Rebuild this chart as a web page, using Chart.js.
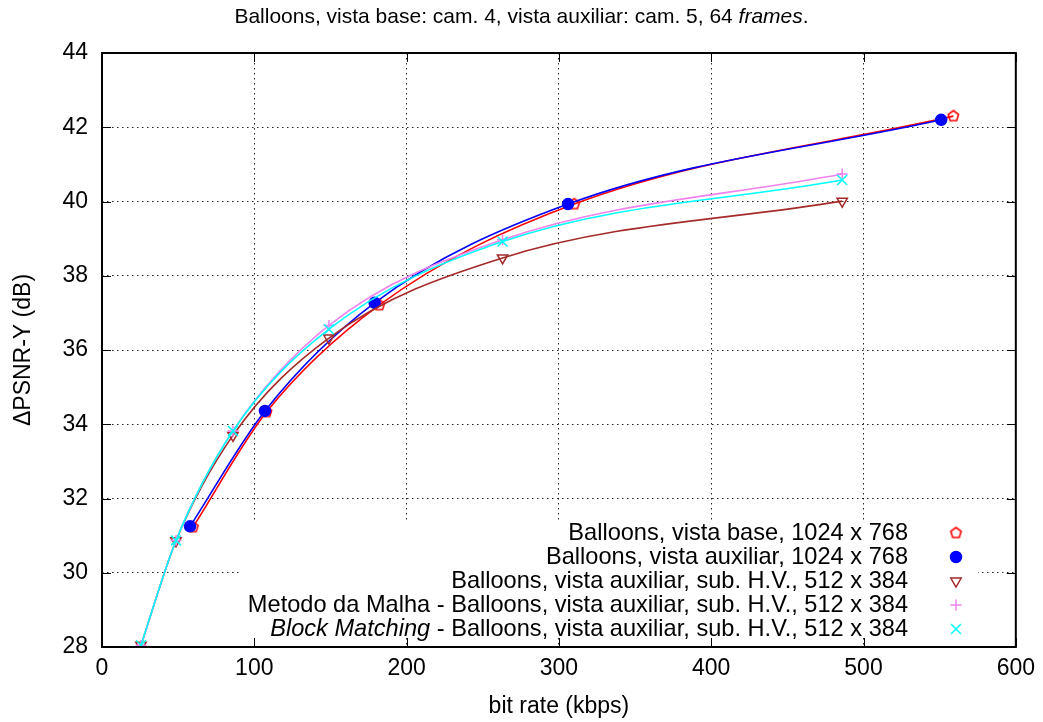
<!DOCTYPE html>
<html>
<head>
<meta charset="utf-8">
<script src="https://cdn.jsdelivr.net/npm/chart.js@4.4.1/dist/chart.umd.min.js"></script>
<style>
  html, body { margin: 0; padding: 0; background: #fff; }
</style>
</head>
<body>
<canvas id="chart" width="1043" height="722"></canvas>
<script>
// Data
const xTicks = [0, 100, 200, 300, 400, 500, 600];
const yTicks = [28, 30, 32, 34, 36, 38, 40, 42, 44];

const baseRate = [59.7, 108, 182, 310, 559];
const basePsnr = [31.23, 34.33, 37.21, 39.93, 42.30];

const auxRate = [57.8, 107, 179, 306, 551];
const auxPsnr = [31.25, 34.36, 37.27, 39.93, 42.20];

const subRate = [25.6, 48.6, 86, 149, 263, 486];
const subPsnr = [28.05, 30.86, 33.70, 36.32, 38.48, 40.01];
const malhaPsnr = [28.05, 30.87, 33.82, 36.66, 38.97, 40.74];
const bmPsnr = [28.05, 30.87, 33.82, 36.56, 38.92, 40.58];

const titleParts = [
  { t: 'Balloons, vista base: cam. 4, vista auxiliar: cam. 5, 64 ' },
  { t: 'frames', i: true },
  { t: '.' }
];
const legendParts = [
  [{ t: 'Balloons, vista base, 1024 x 768' }],
  [{ t: 'Balloons, vista auxiliar, 1024 x 768' }],
  [{ t: 'Balloons, vista auxiliar, sub. H.V., 512 x 384' }],
  [{ t: 'Metodo da Malha - Balloons, vista auxiliar, sub. H.V., 512 x 384' }],
  [{ t: 'Block Matching', i: true }, { t: ' - Balloons, vista auxiliar, sub. H.V., 512 x 384' }]
];

const FONT = '"Liberation Sans", Arial, sans-serif';
const FS = 23;
const KEY_FS = 23.6;

function pts(xs, ys) {
  return xs.map((x, i) => ({ x, y: ys[i] }));
}

// open pentagon marker (not built in)
function pentagon(color, r) {
  const s = Math.ceil(2 * r + 4);
  const c = document.createElement('canvas');
  c.width = c.height = s;
  const g = c.getContext('2d');
  g.strokeStyle = color;
  g.lineWidth = 1.6;
  g.beginPath();
  for (let k = 0; k < 5; k++) {
    const a = -Math.PI / 2 + k * 2 * Math.PI / 5;
    const px = s / 2 + r * Math.cos(a), py = s / 2 + r * Math.sin(a);
    k ? g.lineTo(px, py) : g.moveTo(px, py);
  }
  g.closePath();
  g.stroke();
  return c;
}

function series(label, data, color, style, extra) {
  return Object.assign({
    label, data,
    showLine: true,
    borderColor: color,
    backgroundColor: 'rgba(0,0,0,0)',
    borderWidth: 1.6,
    cubicInterpolationMode: 'monotone',
    pointStyle: style,
    pointRadius: 6,
    pointBorderWidth: 1.5,
    pointBorderColor: color,
    pointBackgroundColor: 'rgba(0,0,0,0)'
  }, extra);
}

const datasets = [
  series('base', pts(baseRate, basePsnr), '#ff0000', pentagon('#ff0000', 5.5), { order: 5 }),
  series('aux', pts(auxRate, auxPsnr), '#0000ff', 'circle', { order: 4, pointRadius: 5.5, pointBackgroundColor: '#0000ff' }),
  series('sub', pts(subRate, subPsnr), '#a52a2a', 'triangle', { order: 3, pointRotation: 180 }),
  series('malha', pts(subRate, malhaPsnr), '#ee82ee', 'cross', { order: 2, pointRadius: 5.5 }),
  series('bm', pts(subRate, bmPsnr), '#00ffff', 'crossRot', { order: 1, pointRadius: 7 })
];

function richWidth(ctx, parts, size) {
  let w = 0;
  parts.forEach(p => {
    ctx.font = (p.i ? 'italic ' : '') + size + 'px ' + FONT;
    w += ctx.measureText(p.t).width;
  });
  return w;
}

function drawRich(ctx, parts, x, y, size, align) {
  const w = richWidth(ctx, parts, size);
  let cx = align === 'right' ? x - w : align === 'center' ? x - w / 2 : x;
  ctx.fillStyle = '#000';
  ctx.textBaseline = 'middle';
  ctx.textAlign = 'left';
  parts.forEach(p => {
    ctx.font = (p.i ? 'italic ' : '') + size + 'px ' + FONT;
    ctx.fillText(p.t, cx, y);
    cx += ctx.measureText(p.t).width;
  });
}

const LEG_TEXT_X = 908, LEG_MARK_X = 956, LEG_Y0 = 533, LEG_DY = 24;

const gnuplotLook = {
  id: 'gnuplotLook',
  beforeDatasetsDraw(chart) {
    // opaque key box hides the grid behind it
    const ctx = chart.ctx;
    let maxW = 0;
    legendParts.forEach(p => { maxW = Math.max(maxW, richWidth(ctx, p, KEY_FS)); });
    ctx.save();
    ctx.fillStyle = '#fff';
    const top = LEG_Y0 - 13;
    const bottom = LEG_Y0 + LEG_DY * (legendParts.length - 1) + 9;
    const left = LEG_TEXT_X - maxW - 8;
    ctx.fillRect(left, top, LEG_MARK_X + 22 - left, bottom - top);
    ctx.restore();
  },
  afterDraw(chart) {
    const ctx = chart.ctx;
    const a = chart.chartArea;
    const sx = chart.scales.x, sy = chart.scales.y;
    ctx.save();

    // key
    chart.data.datasets.forEach((ds, i) => {
      const y = LEG_Y0 + i * LEG_DY;
      drawRich(ctx, legendParts[i], LEG_TEXT_X, y, KEY_FS, 'right');
      ctx.save();
      ctx.strokeStyle = ds.pointBorderColor;
      ctx.fillStyle = ds.pointBackgroundColor;
      ctx.lineWidth = ds.pointBorderWidth;
      Chart.helpers.drawPoint(ctx, {
        pointStyle: ds.pointStyle,
        rotation: ds.pointRotation || 0,
        radius: ds.pointRadius,
        borderWidth: ds.pointBorderWidth
      }, LEG_MARK_X, y);
      ctx.restore();
    });

    // inward tick marks on all four sides
    ctx.strokeStyle = '#000';
    ctx.lineWidth = 1;
    ctx.beginPath();
    xTicks.forEach(v => {
      const px = Math.round(sx.getPixelForValue(v)) + 0.5;
      ctx.moveTo(px, a.bottom); ctx.lineTo(px, a.bottom - 9);
      ctx.moveTo(px, a.top); ctx.lineTo(px, a.top + 9);
    });
    yTicks.forEach(v => {
      const py = Math.round(sy.getPixelForValue(v)) + 0.5;
      ctx.moveTo(a.left, py); ctx.lineTo(a.left + 9, py);
      ctx.moveTo(a.right, py); ctx.lineTo(a.right - 9, py);
    });
    ctx.stroke();

    // border
    ctx.lineWidth = 2;
    ctx.strokeRect(a.left, a.top, a.right - a.left, a.bottom - a.top);

    // title
    drawRich(ctx, titleParts, chart.width / 2, 17, 21, 'center');
    ctx.restore();
  }
};

new Chart(document.getElementById('chart'), {
  type: 'scatter',
  data: { datasets },
  options: {
    responsive: false,
    animation: false,
    layout: { padding: { top: 53, right: 27, left: 0, bottom: 0 } },
    plugins: {
      legend: { display: false },
      title: { display: false },
      tooltip: { enabled: false }
    },
    scales: {
      x: {
        type: 'linear', min: 0, max: 600,
        afterFit: s => { s.height = 75; },
        afterBuildTicks: s => { s.ticks = xTicks.map(v => ({ value: v })); },
        ticks: { color: '#000', font: { family: FONT, size: FS }, padding: 8 },
        grid: { color: 'rgba(0,0,0,0.85)', lineWidth: 1, drawTicks: false },
        border: { display: false, dash: [1.5, 3.5] },
        title: { display: true, text: 'bit rate (kbps)', color: '#000', font: { family: FONT, size: FS }, padding: { top: 0, bottom: 2 } }
      },
      y: {
        type: 'linear', min: 28, max: 44,
        afterFit: s => { s.width = 102; },
        afterBuildTicks: s => { s.ticks = yTicks.map(v => ({ value: v })); },
        ticks: { color: '#000', font: { family: FONT, size: FS }, padding: 14 },
        grid: { color: 'rgba(0,0,0,0.85)', lineWidth: 1, drawTicks: false },
        border: { display: false, dash: [1.5, 3.5] },
        title: { display: true, text: 'ΔPSNR-Y (dB)', color: '#000', font: { family: FONT, size: FS }, padding: { top: 10, bottom: 0 } }
      }
    }
  },
  plugins: [gnuplotLook]
});
</script>
</body>
</html>
